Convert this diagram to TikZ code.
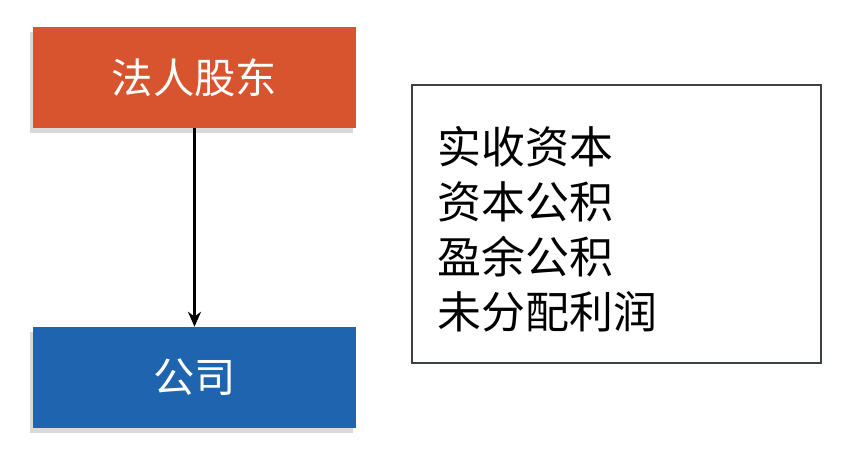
\documentclass[tikz,border=0pt]{standalone}
\usepackage{fontspec}
\newfontfamily\cjk{Noto Sans CJK SC}
\definecolor{holderorange}{RGB}{216,84,46}
\definecolor{companyblue}{RGB}{30,100,174}
\definecolor{framegray}{RGB}{62,64,72}
\usetikzlibrary{positioning, arrows, arrows.meta, shadows}
\tikzset{
>={Stealth[length=8.5pt, width=7.5pt]}, % arrow heads
every party/.style={minimum width=6.46cm, minimum height=2.02cm, inner sep=0pt, text=white, font=\cjk\fontsize{23.5}{28}\selectfont, drop shadow={shadow xshift=-1.5pt, shadow yshift=-3pt, opacity=0.3}}, % the two coloured boxes
holder/.style={every party, fill=holderorange},
company/.style={every party, fill=companyblue},
equityframe/.style={draw=framegray, line width=1.1pt, minimum width=8.18cm, minimum height=5.56cm, inner sep=0pt},
equitylist/.style={align=left, inner sep=0pt, font=\cjk\fontsize{25}{31.3}\selectfont},
}

\begin{document}
\begin{tikzpicture}[x=0.02cm, y=-0.02cm]
      \useasboundingbox (0,0) rectangle (850,460);
      \node[holder] (holder) at (194.5,77.5) {法人股东};
      \node[company] (company) at (194.5,377.5) {公司};
      \node[equityframe] (frame) at (616.5,224) {};
      \node[equitylist, anchor=west] (items) at (437,229.5) {实收资本\\资本公积\\盈余公积\\未分配利润};

      \draw[->, line width=1.2pt] (holder) -- (company);
    \end{tikzpicture}
\end{document}
